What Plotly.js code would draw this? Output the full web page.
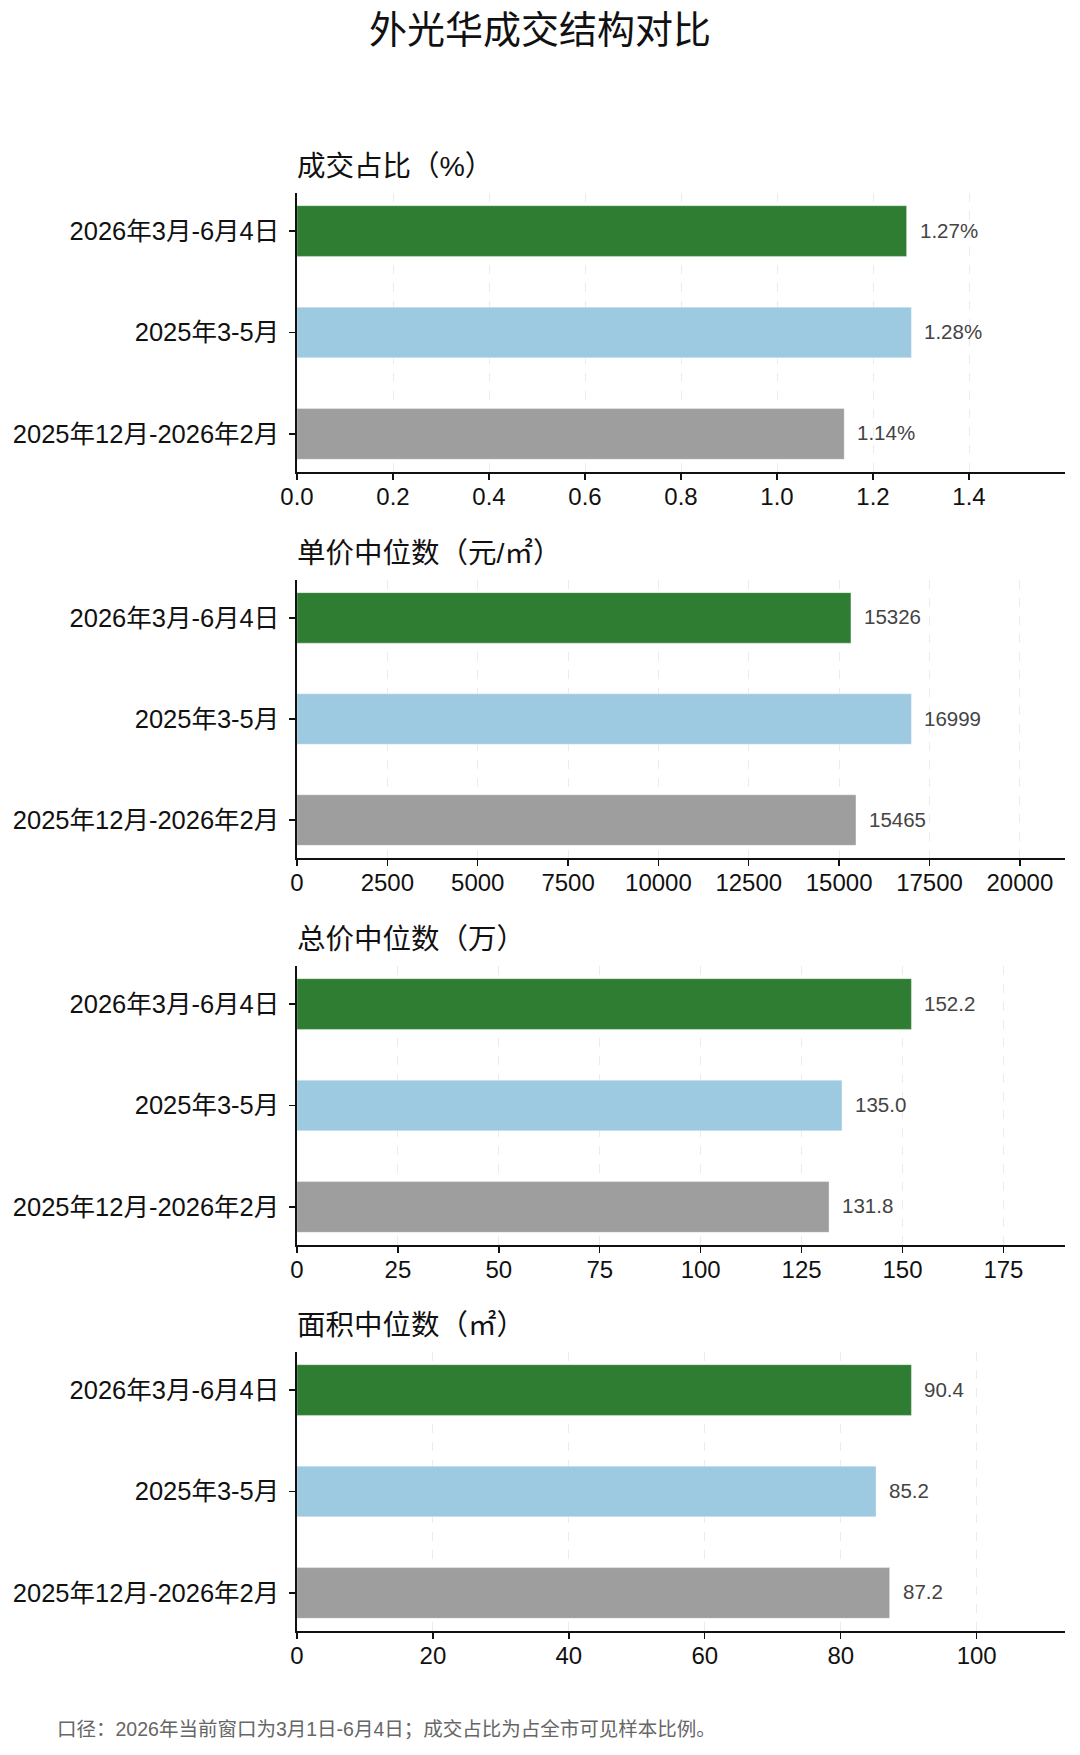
<!DOCTYPE html>
<html>
<head>
<meta charset="utf-8">
<script src="https://cdn.plot.ly/plotly-3.0.1.min.js"></script>
<style>
body{margin:0;background:#fff;}
#chart{width:1080px;height:1755px;}
</style>
</head>
<body>
<div id="chart"></div>
<script>
const mainTitle = "外光华成交结构对比";
const footNote = "口径：2026年当前窗口为3月1日-6月4日；成交占比为占全市可见样本比例。";

const periods = ["2026年3月-6月4日", "2025年3-5月", "2025年12月-2026年2月"];
const barColors = ["#2e7d32", "#9ecae1", "#9e9e9e"];

// one small array per panel, top bar first
const shareValues = [1.27, 1.28, 1.14];
const unitPriceValues = [15326, 16999, 15465];
const totalPriceValues = [152.2, 135.0, 131.8];
const areaValues = [90.4, 85.2, 87.2];

const shareTicks = [0, 0.2, 0.4, 0.6, 0.8, 1.0, 1.2, 1.4];
const unitPriceTicks = [0, 2500, 5000, 7500, 10000, 12500, 15000, 17500, 20000];
const totalPriceTicks = [0, 25, 50, 75, 100, 125, 150, 175];
const areaTicks = [0, 20, 40, 60, 80, 100];

const panelTitles = ["成交占比（%）", "单价中位数（元/㎡）", "总价中位数（万）", "面积中位数（㎡）"];

const W = 1080, H = 1755;
const baseFont = "Liberation Sans, Arial, Noto Sans CJK SC, sans-serif";
const plotLeft = 297, plotRight = 1065;
// pixel top / bottom of each plot box
const panelBoxes = [[193, 472], [580, 858], [966, 1245], [1352, 1631]];

const panels = [
    {values: shareValues, ticks: shareTicks, tickformat: ".1f", label: v => v.toFixed(2) + "%"},
    {values: unitPriceValues, ticks: unitPriceTicks, tickformat: "d", label: v => String(Math.round(v))},
    {values: totalPriceValues, ticks: totalPriceTicks, tickformat: "d", label: v => v.toFixed(1)},
    {values: areaValues, ticks: areaTicks, tickformat: "d", label: v => v.toFixed(1)}
];

let data = [];
let annotations = [];
let layout = {
    width: W,
    height: H,
    margin: {l: 0, r: 0, t: 0, b: 0},
    paper_bgcolor: "#fff",
    plot_bgcolor: "#fff",
    showlegend: false,
    font: {family: baseFont, color: "#111"},
    title: {
        text: mainTitle,
        x: 0.5, xanchor: "center",
        y: 1 - 30 / H, yanchor: "middle",
        font: {family: baseFont, size: 38, color: "#111"}
    }
};

panels.forEach((p, i) => {
    const n = i === 0 ? "" : String(i + 1);
    const box = panelBoxes[i];
    const maxVal = Math.max(...p.values);

    data.push({
        type: "bar",
        orientation: "h",
        x: p.values,
        y: periods,
        xaxis: "x" + n,
        yaxis: "y" + n,
        width: 0.5,
        marker: {color: barColors, line: {color: "rgba(255,255,255,0.35)", width: 1}},
        hoverinfo: "skip"
    });

    layout["xaxis" + n] = {
        domain: [plotLeft / W, plotRight / W],
        anchor: "y" + n,
        range: [0, maxVal * 1.25],
        tickmode: "array",
        tickvals: p.ticks,
        tickformat: p.tickformat,
        showgrid: true,
        gridcolor: "#ececec",
        griddash: "dash",
        gridwidth: 1,
        zeroline: false,
        showline: true,
        linecolor: "#111",
        linewidth: 1.6,
        ticks: "outside",
        ticklen: 6,
        tickwidth: 1.4,
        tickcolor: "#111",
        ticklabelstandoff: -3,
        tickfont: {family: baseFont, size: 24, color: "#111"},
        fixedrange: true
    };

    layout["yaxis" + n] = {
        domain: [1 - box[1] / H, 1 - box[0] / H],
        anchor: "x" + n,
        type: "category",
        categoryorder: "array",
        categoryarray: periods,
        range: [2.375, -0.375],
        showgrid: false,
        zeroline: false,
        showline: true,
        linecolor: "#111",
        linewidth: 1.6,
        ticks: "outside",
        ticklen: 6,
        tickwidth: 1.4,
        tickcolor: "#111",
        ticklabelstandoff: 5,
        tickfont: {family: baseFont, size: 25.5, color: "#111"},
        fixedrange: true
    };

    annotations.push({
        xref: "paper", yref: "paper",
        x: (plotLeft - 2) / W, xanchor: "left",
        y: 1 - (box[0] - 27) / H, yanchor: "middle",
        text: panelTitles[i],
        showarrow: false,
        font: {family: baseFont, size: 28.5, color: "#111"}
    });

    p.values.forEach((v, k) => {
        annotations.push({
            xref: "x" + n, yref: "y" + n,
            x: v, y: periods[k],
            xanchor: "left", yanchor: "middle",
            xshift: 11, yshift: 1,
            text: p.label(v),
            showarrow: false,
            font: {family: baseFont, size: 20.5, color: "#444"}
        });
    });
});

annotations.push({
    xref: "paper", yref: "paper",
    x: 55 / W, xanchor: "left",
    y: 1 - 1729 / H, yanchor: "middle",
    text: footNote,
    showarrow: false,
    font: {family: baseFont, size: 19.5, color: "#666"}
});

layout.annotations = annotations;

Plotly.newPlot("chart", data, layout, {displayModeBar: false, staticPlot: true});
</script>
</body>
</html>
